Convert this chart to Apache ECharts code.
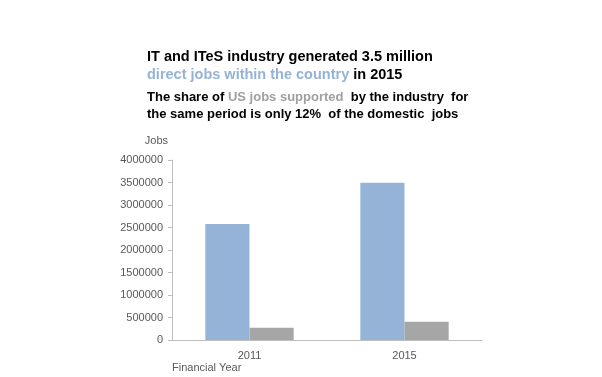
<!doctype html>
<html>
<head>
<meta charset="utf-8">
<style>
  html, body { margin: 0; padding: 0; background: #fff; }
  #main { width: 602px; height: 377px; }
</style>
</head>
<body>
<div id="main"></div>
<script src="https://cdn.jsdelivr.net/npm/echarts@6/dist/echarts.min.js"></script>
<script>
var years = ['2011', '2015'];
var domesticJobs = [2580000, 3495000];
var usJobs = [272000, 408000];
var yTicks = [0, 500000, 1000000, 1500000, 2000000, 2500000, 3000000, 3500000, 4000000];

var chart = echarts.init(document.getElementById('main'));

var font = 'Liberation Sans, Arial, sans-serif';

var option = {
    animation: false,
    textStyle: { fontFamily: font },
    title: [
        {
            left: 147,
            top: 48,
            padding: 0,
            text: '{a|IT and ITeS industry generated 3.5 million}\n{b|direct jobs within the country}{a| in 2015}',
            textStyle: {
                rich: {
                    a: { fontFamily: font, fontSize: 14.5, fontWeight: 'bold', color: '#000', lineHeight: 18 },
                    b: { fontFamily: font, fontSize: 14.5, fontWeight: 'bold', color: '#95b3d7', lineHeight: 18 }
                }
            }
        },
        {
            left: 147,
            top: 89,
            padding: 0,
            text: '{a|The share of }{g|US jobs supported}{a|  by the industry  for}\n{a|the same period is only 12%  of the domestic  jobs}',
            textStyle: {
                rich: {
                    a: { fontFamily: font, fontSize: 13, fontWeight: 'bold', color: '#000', lineHeight: 17 },
                    g: { fontFamily: font, fontSize: 13, color: '#a0a0a0', lineHeight: 17 }
                }
            }
        }
    ],
    grid: {
        left: 172,
        right: 120,
        top: 160,
        bottom: 37,
        containLabel: false
    },
    xAxis: {
        type: 'category',
        data: years,
        name: 'Financial Year',
        nameLocation: 'start',
        nameGap: 0,
        nameTextStyle: {
            color: '#595959',
            fontSize: 11,
            align: 'left',
            verticalAlign: 'top',
            padding: [22, 0, 0, 0]
        },
        axisLine: { lineStyle: { color: '#bfbfbf' } },
        axisTick: { show: false },
        axisLabel: { color: '#595959', fontSize: 11, margin: 10 }
    },
    yAxis: {
        type: 'value',
        min: 0,
        max: yTicks[yTicks.length - 1],
        interval: yTicks[1] - yTicks[0],
        name: 'Jobs',
        nameLocation: 'end',
        nameGap: 14,
        nameTextStyle: { color: '#595959', fontSize: 11, align: 'right', padding: [0, 4, 0, 0] },
        axisLine: { show: true, lineStyle: { color: '#bfbfbf' } },
        axisTick: { show: true, length: 4, lineStyle: { color: '#bfbfbf' } },
        axisLabel: {
            color: '#595959',
            fontSize: 11,
            margin: 9,
            formatter: function (v) { return String(v); }
        },
        splitLine: { show: false }
    },
    series: [
        {
            name: 'Domestic jobs',
            type: 'bar',
            data: domesticJobs,
            barGap: '0%',
            barCategoryGap: '43%',
            itemStyle: { color: '#95b3d7' }
        },
        {
            name: 'US jobs',
            type: 'bar',
            data: usJobs,
            itemStyle: { color: '#a6a6a6' }
        }
    ]
};

chart.setOption(option);
</script>
</body>
</html>
